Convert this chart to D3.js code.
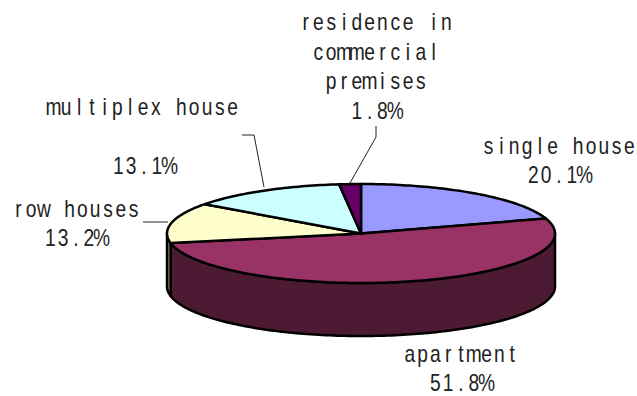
<!DOCTYPE html>
<html>
<head>
<meta charset="utf-8">
<script src="https://cdn.jsdelivr.net/npm/d3@7"></script>
<style>
body { margin: 0; background: #fff; }
text { font-family: "Liberation Sans", sans-serif; font-size: 24px; fill: #222; text-anchor: middle; }
</style>
</head>
<body>
<script>
var width = 637;
var height = 396;

var categories = ["single house", "apartment", "row houses", "multiplex house", "residence in commercial premises"];
var values = [20.1, 51.8, 13.2, 13.1, 1.8];
var colors = ["#9999ff", "#993366", "#ffffcc", "#ccffff", "#660066"];
var sideColors = ["#4d4d80", "#4d1a33", "#808066", "#668080", "#330033"];

// label text, one entry per line
var labelLines = [
    { text: "residence in", x: 376, y: 30 },
    { text: "commercial", x: 376, y: 60 },
    { text: "premises", x: 376, y: 89 },
    { text: "1.8%", x: 376, y: 119 },
    { text: "multiplex house", x: 143, y: 115 },
    { text: "13.1%", x: 144, y: 174 },
    { text: "single house", x: 559, y: 154 },
    { text: "20.1%", x: 559, y: 183 },
    { text: "row houses", x: 76, y: 217 },
    { text: "13.2%", x: 76, y: 246 },
    { text: "apartment", x: 461, y: 362 },
    { text: "51.8%", x: 461, y: 391 }
];
var leaders = [
    [[242, 135], [254, 135], [264, 187]],
    [[376, 126], [376, 137], [350, 183]],
    [[143, 222], [168, 222]]
];

var depth = 53;
var charPitch = 12.8;  // the labels are in a fixed pitch font
var glyphSquash = 0.8;

var x = d3.scaleLinear().domain([-1, 1]).range([167, 555]);
var y = d3.scaleLinear().domain([-1, 1]).range([184, 283]);

var svg = d3.select("body").append("svg")
    .attr("width", width)
    .attr("height", height)
    .style("display", "block");

var slices = d3.pie().sort(null)(values);

function arcAngles(a0, a1) {
    var n = Math.max(2, Math.ceil((a1 - a0) / 0.02));
    return d3.range(n + 1).map(function(i) { return a0 + (a1 - a0) * i / n; });
}
function px(a) { return x(Math.sin(a)); }
function py(a) { return y(-Math.cos(a)); }

// the wall only shows on the front half of the ellipse
var wall = d3.area()
    .x(px)
    .y0(py)
    .y1(function(a) { return py(a) + depth; });

svg.selectAll("path.side")
    .data(slices.filter(function(d) { return d.endAngle > Math.PI / 2 && d.startAngle < 3 * Math.PI / 2; }))
    .enter().append("path")
        .attr("class", "side")
        .attr("fill", function(d) { return sideColors[d.index]; })
        .attr("stroke", "#000")
        .attr("stroke-width", 2.5)
        .attr("stroke-linejoin", "round")
        .attr("d", function(d) {
            return wall(arcAngles(Math.max(d.startAngle, Math.PI / 2), Math.min(d.endAngle, 3 * Math.PI / 2)));
        });

var line = d3.line();

svg.selectAll("path.top")
    .data(slices)
    .enter().append("path")
        .attr("class", "top")
        .attr("fill", function(d) { return colors[d.index]; })
        .attr("stroke", "#000")
        .attr("stroke-width", 2.5)
        .attr("stroke-linejoin", "round")
        .attr("d", function(d) {
            var pts = arcAngles(d.startAngle, d.endAngle).map(function(a) { return [px(a), py(a)]; });
            pts.unshift([x(0), y(0)]);
            return line(pts) + "Z";
        });

svg.selectAll("path.leader")
    .data(leaders)
    .enter().append("path")
        .attr("class", "leader")
        .attr("fill", "none")
        .attr("stroke", "#222")
        .attr("stroke-width", 1)
        .attr("d", function(d) { return line(d); });

// one x per character, so each glyph centres in its own cell
svg.selectAll("text")
    .data(labelLines)
    .enter().append("text")
        .attr("transform", function(d) { return "translate(" + d.x + "," + d.y + ") scale(" + glyphSquash + ",1)"; })
        .attr("x", function(d) {
            return d.text.split("").map(function(c, i) {
                return (i - (d.text.length - 1) / 2) * charPitch / glyphSquash;
            }).join(" ");
        })
        .text(function(d) { return d.text; });
</script>
</body>
</html>
